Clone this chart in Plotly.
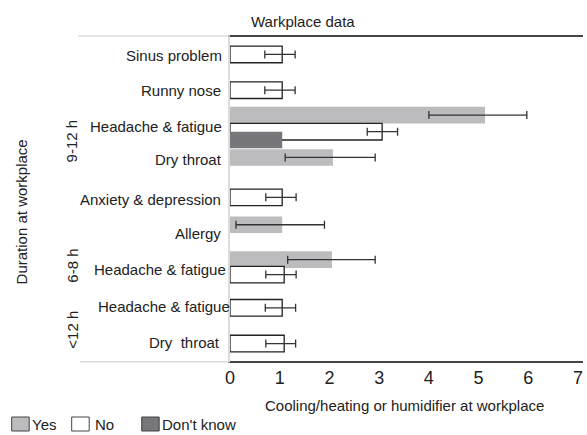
import plotly.graph_objects as go

# ---------------- data ----------------
series_names = ["Yes", "No", "Don't know"]

# Yes
yes_keys = ["ha_9_12", "dry_9_12", "allergy", "ha_6_8"]
yes_vals = [5.13, 2.07, 1.05, 2.05]
yes_err_lo = [4.00, 1.11, 0.12, 1.16]
yes_err_hi = [5.97, 2.92, 1.90, 2.92]

# No
no_keys = ["sinus", "runny", "ha_9_12", "anxiety", "ha_6_8", "ha_12", "dry_12"]
no_vals = [1.05, 1.05, 3.06, 1.05, 1.09, 1.05, 1.09]
no_err_lo = [0.70, 0.70, 2.76, 0.72, 0.72, 0.71, 0.72]
no_err_hi = [1.31, 1.31, 3.37, 1.33, 1.33, 1.32, 1.32]

# Don't know
dk_keys = ["ha_9_12"]
dk_vals = [1.05]

row_labels = ["Sinus problem", "Runny nose", "Headache & fatigue", "Dry throat",
              "Anxiety & depression", "Allergy", "Headache & fatigue",
              "Headache & fatigue", "Dry\u00a0 throat", "Headache & fatigue"]
group_labels = ["9-12 h", "6-8 h", "<12 h"]
x_ticks = [0, 1, 2, 3, 4, 5, 6, 7]

title_text = "Warkplace data"
x_title = "Cooling/heating or humidifier at workplace"
y_title = "Duration at workplace"

# ---------------- layout ----------------
W, H = 587, 435
PLOT_L, PLOT_R, PLOT_T, PLOT_B = 230, 583, 37, 361   # page pixels
L = PLOT_L
R = W - PLOT_R
T = PLOT_T
B = H - PLOT_B
PW, PH = PLOT_R - PLOT_L, PLOT_B - PLOT_T
XMAX = 7.1
YMAX = 39.0
PAD = 2  # annotation inner padding (borderpad + borderwidth)

# vertical slots (in y-axis units) of each bar
bar_slot = {
    "Yes": {"ha_9_12": 9.4, "dry_9_12": 14.5, "allergy": 22.6, "ha_6_8": 26.8},
    "No": {"sinus": 2.1, "runny": 6.4, "ha_9_12": 11.4, "anxiety": 19.3,
           "ha_6_8": 28.6, "ha_12": 32.6, "dry_12": 36.9},
    "Don't know": {"ha_9_12": 12.4},
}
label_y = [2.17, 6.46, 10.8, 14.7, 19.6, 23.6, 28.0, 32.4, 36.8, 40.7]
label_right_px = [221.5, 221, 221.7, 221.7, 220.7, 220.7, 225.7, 229.7, 219.7, 218.7]
group_y_px = [140.7, 266, 330]

FONT = "Liberation Sans, Arial, sans-serif"
TXT = "#222222"
YES_C = "#bcbcbf"
DK_C = "#77777b"
EDGE = "#222222"


def px_x(px):
    """page pixel x -> paper x"""
    return (px - PLOT_L) / PW


def px_y(py):
    """page pixel y -> paper y"""
    return (PLOT_B - py) / PH


fig = go.Figure()

fig.add_trace(go.Bar(
    name="Yes", orientation="h",
    x=yes_vals, y=[bar_slot["Yes"][k] for k in yes_keys], width=2.0,
    marker=dict(color=YES_C, line=dict(width=0)),
    error_x=dict(type="data", symmetric=False,
                 array=[h - v for h, v in zip(yes_err_hi, yes_vals)],
                 arrayminus=[v - l for v, l in zip(yes_vals, yes_err_lo)],
                 color="#333333", thickness=1.3, width=4),
    showlegend=False,
))
fig.add_trace(go.Bar(
    name="No", orientation="h",
    x=no_vals, y=[bar_slot["No"][k] for k in no_keys], width=2.0,
    marker=dict(color="white", line=dict(width=1.3, color=EDGE)),
    error_x=dict(type="data", symmetric=False,
                 array=[h - v for h, v in zip(no_err_hi, no_vals)],
                 arrayminus=[v - l for v, l in zip(no_vals, no_err_lo)],
                 color="#333333", thickness=1.3, width=4),
    showlegend=False,
))
fig.add_trace(go.Bar(
    name="Don't know", orientation="h",
    x=dk_vals, y=[bar_slot["Don't know"][k] for k in dk_keys], width=2.0,
    marker=dict(color=DK_C, line=dict(width=0)),
    showlegend=False,
))

annotations = []
for txt, yv, rpx in zip(row_labels, label_y, label_right_px):
    annotations.append(dict(text=txt, xref="paper", x=0, xshift=rpx - PLOT_L + PAD,
                            yref="y", y=yv, xanchor="right", yanchor="middle",
                            showarrow=False, font=dict(size=15, color=TXT, family=FONT)))
for txt, ypx in zip(group_labels, group_y_px):
    annotations.append(dict(text=txt, xref="paper", x=px_x(71.7), yref="paper", y=px_y(ypx),
                            xanchor="center", yanchor="middle", textangle=-90,
                            showarrow=False, font=dict(size=15, color=TXT, family=FONT)))
annotations.append(dict(text=y_title, xref="paper", x=px_x(21.7), yref="paper", y=px_y(211.7),
                        xanchor="center", yanchor="middle", textangle=-90,
                        showarrow=False, font=dict(size=15, color=TXT, family=FONT)))
annotations.append(dict(text=title_text, xref="paper", x=px_x(303), yref="paper", y=px_y(21),
                        xanchor="center", yanchor="middle",
                        showarrow=False, font=dict(size=15, color=TXT, family=FONT)))
annotations.append(dict(text=x_title, xref="paper", x=px_x(404), yref="paper", y=px_y(405),
                        xanchor="center", yanchor="middle",
                        showarrow=False, font=dict(size=15, color=TXT, family=FONT)))

# manual legend
legend_items = [("Yes", YES_C, 11.7, 31.7), ("No", "white", 71.7, 95), ("Don't know", DK_C, 141.7, 161.7)]
shapes = []
for name, col, sx, tx in legend_items:
    shapes.append(dict(type="rect", xref="paper", yref="paper",
                       x0=px_x(sx), x1=px_x(sx + 17.5), y0=px_y(431), y1=px_y(417),
                       fillcolor=col, line=dict(color="#444444", width=1)))
    annotations.append(dict(text=name, xref="paper", x=px_x(tx - PAD), yref="paper", y=px_y(424.3),
                            xanchor="left", yanchor="middle", showarrow=False,
                            font=dict(size=15, color=TXT, family=FONT)))

# light gray frame lines on the left
shapes.append(dict(type="line", xref="paper", yref="paper", x0=px_x(78), x1=0,
                   y0=px_y(36), y1=px_y(36), line=dict(color="#dcdcdc", width=1.5)))
shapes.append(dict(type="line", xref="paper", yref="paper", x0=px_x(80), x1=0,
                   y0=px_y(361.7), y1=px_y(361.7), line=dict(color="#dcdcdc", width=1.5)))

fig.update_layout(
    width=W, height=H,
    margin=dict(l=L, r=R, t=T, b=B, pad=0),
    barmode="overlay",
    plot_bgcolor="white", paper_bgcolor="white",
    font=dict(family=FONT, color=TXT, size=15),
    annotations=annotations,
    shapes=shapes,
    xaxis=dict(range=[0, XMAX], tickvals=x_ticks, ticktext=[str(t) for t in x_ticks],
               showgrid=False, zeroline=False, showline=True, linecolor="#444444",
               linewidth=1.5, mirror=True, ticks="", tickfont=dict(size=18, color=TXT, family=FONT),
               fixedrange=True),
    yaxis=dict(range=[YMAX, 0], showticklabels=False, showgrid=False, zeroline=False,
               showline=True, linecolor="#dcdcdc", linewidth=1.5, ticks="", fixedrange=True),
)

fig.write_html(
    "out.html",
    config={"displayModeBar": False},
    post_script="document.body.style.margin='0';document.body.style.overflow='hidden';",
)
